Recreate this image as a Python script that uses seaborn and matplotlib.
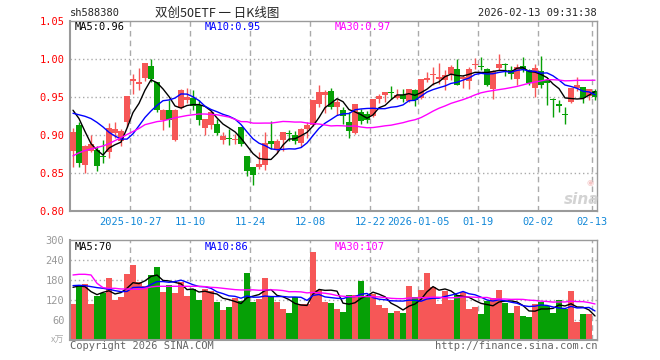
import matplotlib
matplotlib.use("Agg")
import matplotlib.pyplot as plt
import numpy as np
import pandas as pd
import seaborn as sns

# 双创50ETF sh588380 日K (2025-10-13 ~ 2026-02-13)
opens = [0.880, 0.914, 0.861, 0.880, 0.881, 0.872, 0.878, 0.903, 0.893, 0.918,
         0.972, 0.968, 0.976, 0.991, 0.970, 0.920, 0.933, 0.894, 0.936, 0.947,
         0.949, 0.940, 0.910, 0.914, 0.915, 0.894, 0.8952, 0.894, 0.911, 0.873,
         0.858, 0.858, 0.861, 0.8925, 0.881, 0.8934, 0.9016, 0.900, 0.890, 0.908,
         0.914, 0.9417, 0.953, 0.958, 0.937, 0.933, 0.9175, 0.9035, 0.931, 0.9285,
         0.9254, 0.948, 0.9535, 0.957, 0.9496, 0.9526, 0.9447, 0.9592, 0.949, 0.9733,
         0.979, 0.9737, 0.9724, 0.981, 0.9877, 0.9745, 0.971, 0.9925, 0.990, 0.9868,
         0.9605, 0.9886, 0.9925, 0.9855, 0.9746, 0.991, 0.9855, 0.9623, 0.9842, 0.9725,
         0.947, 0.9417, 0.9275, 0.944, 0.9623, 0.9636, 0.9518, 0.958]
highs = [0.910, 0.918, 0.887, 0.900, 0.886, 0.894, 0.916, 0.917, 0.908, 0.952,
         0.981, 0.988, 0.995, 1.000, 0.970, 0.935, 0.946, 0.935, 0.961, 0.962,
         0.960, 0.947, 0.922, 0.933, 0.921, 0.904, 0.908, 0.902, 0.911, 0.873,
         0.858, 0.878, 0.904, 0.919, 0.895, 0.904, 0.907, 0.906, 0.910, 0.9175,
         0.946, 0.966, 0.959, 0.962, 0.948, 0.937, 0.931, 0.9417, 0.935, 0.9316,
         0.948, 0.955, 0.957, 0.9645, 0.961, 0.9605, 0.9614, 0.961, 0.9737, 0.9833,
         0.9899, 0.995, 0.9855, 0.993, 1.000, 0.980, 0.990, 1.002, 1.003, 0.9886,
         0.9855, 1.0075, 0.9956, 0.991, 0.9943, 1.003, 0.9877, 0.9943, 1.0044, 0.9745,
         0.9497, 0.946, 0.9373, 0.9623, 0.9768, 0.9636, 0.9605, 0.9605]
lows = [0.858, 0.858, 0.850, 0.878, 0.853, 0.864, 0.870, 0.897, 0.886, 0.911,
        0.954, 0.960, 0.972, 0.970, 0.931, 0.907, 0.911, 0.893, 0.934, 0.942,
        0.933, 0.914, 0.900, 0.908, 0.900, 0.889, 0.887, 0.889, 0.886, 0.847,
        0.834, 0.856, 0.854, 0.882, 0.877, 0.880, 0.893, 0.889, 0.8846, 0.896,
        0.912, 0.937, 0.929, 0.935, 0.927, 0.915, 0.896, 0.902, 0.915, 0.9167,
        0.924, 0.943, 0.944, 0.948, 0.948, 0.9434, 0.9439, 0.9386, 0.948, 0.970,
        0.966, 0.9675, 0.959, 0.9733, 0.9658, 0.962, 0.9614, 0.987, 0.9855, 0.965,
        0.948, 0.9855, 0.978, 0.9746, 0.9658, 0.983, 0.9658, 0.950, 0.9623, 0.940,
        0.9237, 0.9307, 0.9154, 0.943, 0.9588, 0.943, 0.946, 0.947]
closes = [0.904, 0.864, 0.886, 0.889, 0.860, 0.871, 0.910, 0.908, 0.906, 0.952,
          0.974, 0.970, 0.995, 0.974, 0.933, 0.933, 0.920, 0.933, 0.960, 0.950,
          0.939, 0.920, 0.921, 0.931, 0.903, 0.899, 0.8947, 0.895, 0.889, 0.853,
          0.848, 0.862, 0.890, 0.888, 0.892, 0.904, 0.9013, 0.892, 0.908, 0.914,
          0.946, 0.957, 0.957, 0.937, 0.944, 0.926, 0.905, 0.9417, 0.919, 0.9206,
          0.948, 0.952, 0.957, 0.956, 0.9526, 0.948, 0.9605, 0.946, 0.9737, 0.9754,
          0.980, 0.9768, 0.980, 0.990, 0.9667, 0.9768, 0.9877, 0.993, 0.9895, 0.9658,
          0.984, 0.9943, 0.992, 0.981, 0.990, 0.9877, 0.969, 0.988, 0.9658, 0.969,
          0.946, 0.938, 0.927, 0.962, 0.9658, 0.949, 0.9605, 0.9504]
# 成交量 (万)
volumes = [109, 164, 169, 109, 134, 143, 188, 121, 130, 199,
           226, 174, 163, 196, 220, 145, 166, 142, 174, 133,
           154, 121, 155, 149, 115, 91, 100, 127, 118, 202,
           115, 124, 187, 133, 115, 94, 82, 129, 109, 109,
           265, 151, 115, 112, 94, 85, 136, 136, 178, 133,
           139, 106, 97, 82, 88, 82, 163, 130, 151, 202,
           160, 109, 148, 121, 136, 145, 94, 100, 79, 118,
           127, 151, 112, 82, 103, 73, 70, 109, 115, 103,
           82, 121, 94, 148, 55, 79, 79, 4]

# 均线起始段 (窗口之前的数据不在图内, 直接读图)
ma5_head = [0.933, 0.922, 0.905, 0.889]
ma10_head = [0.929, 0.927, 0.925, 0.922, 0.917, 0.911, 0.904, 0.899, 0.895]
ma30_head = [0.873, 0.877, 0.880, 0.882, 0.884, 0.886, 0.889, 0.893, 0.897, 0.901,
             0.905, 0.909, 0.914, 0.916, 0.918, 0.919, 0.921, 0.923, 0.9245, 0.926,
             0.927, 0.928, 0.928, 0.9275, 0.927, 0.9255, 0.924, 0.921, 0.918]
vma5_head = [159, 163, 161, 146]
vma10_head = [164, 165, 164, 161, 158, 156, 153, 149, 146]
vma30_head = [196, 198, 198, 196, 171, 158, 156, 156, 154, 154,
              153, 153, 156, 160, 162, 162, 162, 162, 162, 162,
              162, 162, 161, 159, 158, 156, 154, 152, 151]

tick_pos = [10, 20, 30, 40, 50, 58, 68, 78, 87]
tick_labels = ['2025-10-27', '11-10', '11-24', '12-08', '12-22',
               '2026-01-05', '01-19', '02-02', '02-13']
price_ticks = [0.80, 0.85, 0.90, 0.95, 1.00, 1.05]
vol_ticks = [60, 120, 180, 240, 300]
price_ma_text = ['MA5:0.96', 'MA10:0.95', 'MA30:0.97']
vol_ma_text = ['MA5:70', 'MA10:86', 'MA30:107']

RED = '#f65757'
GREEN = '#06a006'
GRID = '#aaaaaa'
BLUE_TXT = '#1288d8'
MONO = 'DejaVu Sans Mono'
CJK = ['Noto Sans CJK SC', 'DejaVu Sans']
W, H = 660, 360


def moving_avg(vals, n, head):
    s = pd.Series(vals, dtype=float).rolling(n).mean()
    s.iloc[:len(head)] = head
    return s.values


def px(x, y):
    return x / W, 1 - y / H


sns.set_style("white")
plt.rcParams['font.family'] = ['DejaVu Sans Mono', 'Noto Sans CJK SC']

n = len(closes)
idx = np.arange(n)
o = np.array(opens)
c = np.array(closes)
up = c >= o
colors = np.where(up, RED, GREEN)

fig = plt.figure(figsize=(6.6, 3.6), dpi=100)
ax = fig.add_axes([70 / W, 1 - 211.3 / H, 527 / W, 190 / H])
axv = fig.add_axes([70 / W, 1 - 340.3 / H, 527 / W, 100 / H])

# ---- price panel
for a in (ax, axv):
    a.set_xlim(-0.5, 87.33)
    for p in tick_pos:
        a.axvline(p - 0.5, color=GRID, ls=(0, (4, 3)), lw=1, zorder=0)
    for side in ['top', 'right', 'left', 'bottom']:
        a.spines[side].set_color('#9a9a9a')
        a.spines[side].set_linewidth(1.5 if side in ('left', 'bottom') else 1)

ax.set_ylim(0.80, 1.05)
for yv in price_ticks[1:-1]:
    ax.axhline(yv, color=GRID, ls=(0, (1, 2)), lw=1, zorder=0)

ax.vlines(idx, lows, highs, colors=colors, lw=1, zorder=2)
body_low = np.minimum(o, c)
body_h = np.maximum(np.abs(c - o), 0.0013)
ax.bar(idx, body_h, bottom=body_low, width=0.85, color=colors, lw=0, zorder=3)

ma5 = moving_avg(closes, 5, ma5_head)
ma10 = moving_avg(closes, 10, ma10_head)
ma30 = moving_avg(closes, 30, ma30_head)
sns.lineplot(x=idx, y=ma5, color='black', lw=1, ax=ax, zorder=4)
sns.lineplot(x=idx, y=ma10, color='#0000ff', lw=1, ax=ax, zorder=4)
sns.lineplot(x=idx, y=ma30, color='#ff00ff', lw=1, ax=ax, zorder=4)

ax.set_yticks(price_ticks)
ax.set_yticklabels([f'{v:.2f}' for v in price_ticks], color='#ff0000',
                   fontsize=7.5, family=MONO)
ax.set_xticks([p - 0.5 for p in tick_pos])
ax.set_xticklabels(tick_labels, color=BLUE_TXT, fontsize=7.5, family=MONO)
ax.tick_params(length=0, pad=4)
ax.set_xlabel('')
ax.set_ylabel('')

# ---- volume panel
axv.set_ylim(0, 300)
for yv in vol_ticks[:-1]:
    axv.axhline(yv, color=GRID, ls=(0, (1, 2)), lw=1, zorder=0)
vdf = pd.DataFrame({'i': idx, 'vol': volumes,
                    'dir': np.where(up, 'up', 'down')})
sns.barplot(data=vdf, x='i', y='vol', hue='dir', palette={'up': RED, 'down': GREEN},
            native_scale=True, width=0.85, saturation=1, errorbar=None,
            legend=False, linewidth=0, ax=axv, zorder=2)
vma5 = moving_avg(volumes, 5, vma5_head)
vma10 = moving_avg(volumes, 10, vma10_head)
vma30 = moving_avg(volumes, 30, vma30_head)
sns.lineplot(x=idx, y=vma5, color='black', lw=1, ax=axv, zorder=4)
sns.lineplot(x=idx, y=vma10, color='#0000ff', lw=1, ax=axv, zorder=4)
sns.lineplot(x=idx, y=vma30, color='#ff00ff', lw=1, ax=axv, zorder=4)
axv.set_xlim(-0.5, 87.33)
axv.set_xticks([])
axv.set_yticks(vol_ticks)
axv.set_yticklabels([str(v) for v in vol_ticks], color='#999999', fontsize=7.5, family=MONO)
axv.tick_params(length=0, pad=4)
axv.set_xlabel('')
axv.set_ylabel('')

# ---- texts
fig.text(*px(70, 13), 'sh588380', fontsize=7.5, family=MONO, va='center', ha='left')
fig.text(*px(217, 13), '双创50ETF 一 日K线图', fontsize=9, family=CJK, va='center', ha='center')
fig.text(*px(597, 13), '2026-02-13 09:31:38', fontsize=7.5, family=MONO, va='center', ha='right')

ma_colors = ['black', '#0000ff', '#ff00ff']
for xp, t, col in zip([75, 205, 335], price_ma_text, ma_colors):
    fig.text(*px(xp, 26.5), t, fontsize=7.5, family=MONO, color=col, va='center', ha='left')
for xp, t, col in zip([75, 205, 335], vol_ma_text, ma_colors):
    fig.text(*px(xp, 246.5), t, fontsize=7.5, family=MONO, color=col, va='center', ha='left')

fig.text(*px(64, 340), 'x万', fontsize=6.5, family=CJK, color='#aaaaaa', va='center', ha='right')
fig.text(*px(70, 346), 'Copyright 2026 SINA.COM', fontsize=7.5, family=MONO,
         color='#666666', va='center', ha='left')
fig.text(*px(597, 346), 'http://finance.sina.com.cn', fontsize=7.5, family=MONO,
         color='#666666', va='center', ha='right')

# sina watermark
fig.text(*px(582, 199), 'sina', fontsize=11, fontstyle='italic', fontweight='bold',
         family='DejaVu Sans', color='#cfcfcf', va='center', ha='center', alpha=0.9)
fig.text(*px(590, 183), '◉', fontsize=6, family='DejaVu Sans', color='#f4c4c4',
         va='center', ha='center')

fig.savefig('out.png', dpi=100)
